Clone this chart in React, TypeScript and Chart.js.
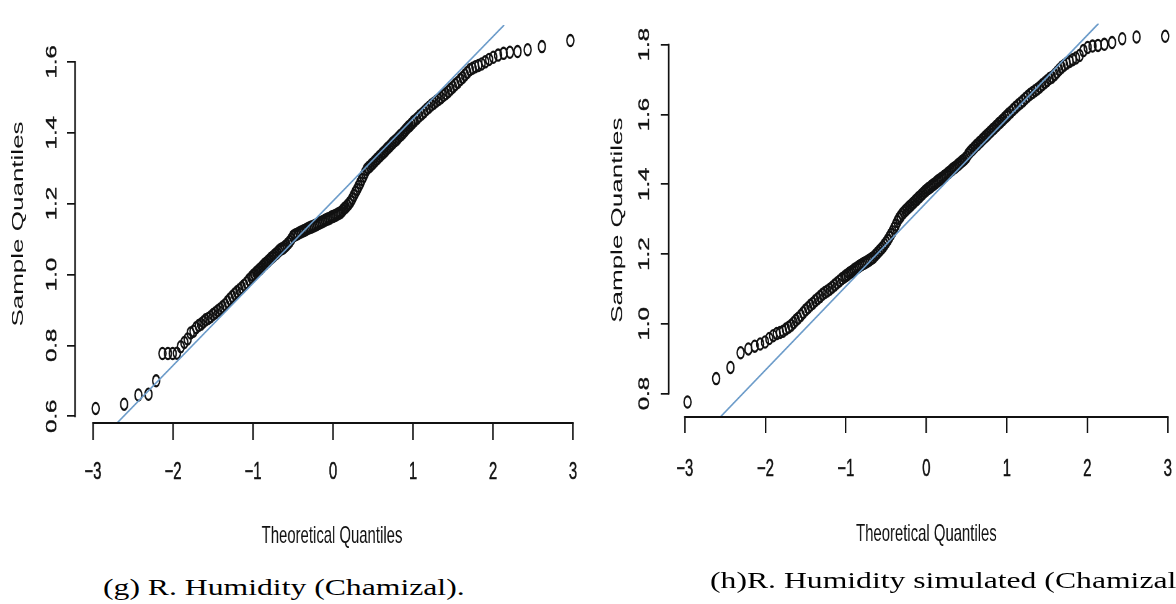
import React, { useEffect, useRef } from "react";
import { Chart, registerables } from "chart.js";

Chart.register(...registerables);

// ---------------- data ----------------
// theoretical normal quantiles (shared by both panels)
const theoreticalQ = [
  -2.967, -2.611, -2.433, -2.307, -2.211, -2.132, -2.064, -2.004, -1.951, -1.903,
  -1.858, -1.818, -1.780, -1.744, -1.711, -1.679, -1.649, -1.621, -1.593,
  -1.56, -1.53, -1.50, -1.47, -1.44, -1.41, -1.38, -1.35, -1.32, -1.29,
  -1.26, -1.23, -1.20, -1.17, -1.14, -1.11, -1.08, -1.05, -1.02,
  -1.00, -0.98, -0.96, -0.94, -0.92, -0.90, -0.88, -0.86, -0.84, -0.82,
  -0.80, -0.78, -0.76, -0.74, -0.72, -0.70, -0.68, -0.66, -0.64, -0.62,
  -0.60, -0.58, -0.56, -0.54, -0.52, -0.50, -0.48, -0.46, -0.44, -0.42,
  -0.40, -0.38, -0.36, -0.34, -0.32, -0.30, -0.28, -0.26, -0.24, -0.22,
  -0.20, -0.18, -0.16, -0.14, -0.12, -0.10, -0.08, -0.06, -0.04, -0.02,
  0.00, 0.02, 0.04, 0.06, 0.08, 0.10, 0.12, 0.14, 0.16, 0.18,
  0.20, 0.22, 0.24, 0.26, 0.28, 0.30, 0.32, 0.34, 0.36, 0.38,
  0.40, 0.42, 0.44, 0.46, 0.48, 0.50, 0.52, 0.54, 0.56, 0.58,
  0.60, 0.62, 0.64, 0.66, 0.68, 0.70, 0.72, 0.74, 0.76, 0.78,
  0.80, 0.82, 0.84, 0.86, 0.88, 0.90, 0.92, 0.94, 0.96, 0.98,
  1.00,
  1.02, 1.05, 1.08, 1.11, 1.14, 1.17, 1.20, 1.23, 1.26, 1.29,
  1.32, 1.35, 1.38, 1.41, 1.44, 1.47, 1.50, 1.53, 1.56,
  1.593, 1.621, 1.649, 1.679, 1.711, 1.744, 1.780, 1.818, 1.858, 1.903,
  1.951, 2.004, 2.064, 2.132, 2.211, 2.307, 2.433, 2.611, 2.967,
];

// (g) R. Humidity (Chamizal) – sample quantiles
const sampleLeft = [
  0.622, 0.634, 0.660, 0.662, 0.700, 0.777, 0.777, 0.777, 0.778, 0.796,
  0.808, 0.818, 0.835, 0.840, 0.850, 0.856, 0.860, 0.866, 0.872,
  0.876, 0.881, 0.887, 0.892, 0.898, 0.903, 0.909, 0.915, 0.923, 0.931,
  0.938, 0.945, 0.951, 0.957, 0.963, 0.970, 0.977, 0.985, 0.992,
  0.997, 1.001, 1.006, 1.010, 1.014, 1.018, 1.023, 1.028, 1.032, 1.036,
  1.040, 1.045, 1.049, 1.053, 1.057, 1.061, 1.066, 1.070, 1.073, 1.075,
  1.079, 1.083, 1.088, 1.093, 1.100, 1.108, 1.111, 1.113, 1.115, 1.118,
  1.120, 1.122, 1.124, 1.126, 1.129, 1.131, 1.133, 1.135, 1.137, 1.139,
  1.141, 1.144, 1.146, 1.148, 1.150, 1.153, 1.155, 1.157, 1.159, 1.162,
  1.164, 1.166, 1.168, 1.171, 1.173, 1.176, 1.181, 1.186, 1.190, 1.195,
  1.200, 1.206, 1.214, 1.223, 1.232, 1.240, 1.249, 1.258, 1.268, 1.277,
  1.287, 1.296, 1.301, 1.305, 1.310, 1.314, 1.319, 1.324, 1.328, 1.333,
  1.337, 1.342, 1.346, 1.351, 1.356, 1.360, 1.365, 1.370, 1.374, 1.378,
  1.382, 1.387, 1.392, 1.396, 1.401, 1.406, 1.411, 1.416, 1.420, 1.425,
  1.430,
  1.434, 1.440, 1.447, 1.453, 1.459, 1.466, 1.472, 1.478, 1.483, 1.489,
  1.494, 1.499, 1.505, 1.510, 1.516, 1.523, 1.529, 1.536, 1.542,
  1.550, 1.556, 1.563, 1.570, 1.578, 1.582, 1.586, 1.590, 1.594, 1.600,
  1.607, 1.613, 1.619, 1.624, 1.627, 1.629, 1.634, 1.643, 1.660,
];

// (h) R. Humidity simulated (Chamizal) – sample quantiles
const sampleRight = [
  0.776, 0.843, 0.875, 0.917, 0.928, 0.936, 0.942, 0.948, 0.958, 0.966,
  0.972, 0.975, 0.979, 0.985, 0.990, 0.996, 1.003, 1.010, 1.016,
  1.024, 1.032, 1.040, 1.046, 1.053, 1.059, 1.066, 1.072, 1.078, 1.085,
  1.090, 1.094, 1.099, 1.105, 1.111, 1.117, 1.123, 1.129, 1.134,
  1.138, 1.141, 1.145, 1.148, 1.151, 1.155, 1.158, 1.161, 1.164, 1.167,
  1.170, 1.173, 1.175, 1.178, 1.181, 1.184, 1.187, 1.190, 1.195, 1.200,
  1.205, 1.210, 1.215, 1.220, 1.227, 1.233, 1.240, 1.248, 1.256, 1.264,
  1.274, 1.283, 1.293, 1.302, 1.308, 1.315, 1.320, 1.325, 1.329, 1.334,
  1.338, 1.343, 1.347, 1.352, 1.356, 1.361, 1.365, 1.370, 1.374, 1.379,
  1.383, 1.387, 1.390, 1.394, 1.398, 1.401, 1.405, 1.409, 1.412, 1.416,
  1.419, 1.423, 1.426, 1.430, 1.434, 1.438, 1.442, 1.446, 1.449, 1.453,
  1.457, 1.461, 1.465, 1.469, 1.473, 1.478, 1.486, 1.492, 1.497, 1.501,
  1.506, 1.511, 1.515, 1.520, 1.524, 1.529, 1.533, 1.538, 1.542, 1.547,
  1.551, 1.556, 1.560, 1.565, 1.569, 1.574, 1.578, 1.583, 1.587, 1.592,
  1.596,
  1.601, 1.607, 1.614, 1.621, 1.627, 1.633, 1.639, 1.646, 1.652, 1.658,
  1.663, 1.668, 1.673, 1.679, 1.685, 1.691, 1.697, 1.703, 1.707,
  1.714, 1.721, 1.728, 1.735, 1.741, 1.747, 1.752, 1.757, 1.762, 1.769,
  1.783, 1.792, 1.796, 1.798, 1.801, 1.806, 1.817, 1.822, 1.824,
];

// reference (qqline) end points, read at the plot-region edges
const qqLineLeftX = [-2.70, 2.14];
const qqLineLeftY = [0.581, 1.704];
const qqLineRightX = [-2.56, 2.14];
const qqLineRightY = [0.733, 1.861];

const xTickValues = [-3, -2, -1, 0, 1, 2, 3];
const xTickLabels = ["\u22123", "\u22122", "\u22121", "0", "1", "2", "3"];
const yTickValuesLeft = [0.6, 0.8, 1.0, 1.2, 1.4, 1.6];
const yTickLabelsLeft = ["0.6", "0.8", "1.0", "1.2", "1.4", "1.6"];
const yTickValuesRight = [0.8, 1.0, 1.2, 1.4, 1.6, 1.8];
const yTickLabelsRight = ["0.8", "1.0", "1.2", "1.4", "1.6", "1.8"];

const xTitle = "Theoretical Quantiles";
const yTitle = "Sample Quantiles";
const captions = ["(g) R. Humidity (Chamizal).", "(h)R. Humidity simulated (Chamizal)."];

// ---------------- layout ----------------
const SX = 0.62; // horizontal squeeze of the plot images
const SANS = "'Liberation Sans', Arial, Helvetica, sans-serif";
const INK = "#111";

type Panel = {
  left: number;
  canvasW: number;
  canvasH: number;
  xMin: number; xMax: number; yMin: number; yMax: number;
  padTop: number; padRight: number;
  yAxisW: number; xAxisH: number;
  yTickLen: number; yTickPad: number; yTitlePad: number;
  xTickLen: number; xTickPad: number; xTitlePad: number;
  sample: number[];
  lineX: number[]; lineY: number[];
  yTicks: number[]; yLabels: string[];
};

const panels: Panel[] = [
  {
    left: 0, canvasW: 965, canvasH: 560,
    xMin: -3.225, xMax: 3.2, yMin: 0.581, yMax: 1.704,
    padTop: 25, padRight: 15,
    yAxisW: 121, xAxisH: 137,
    yTickLen: 13, yTickPad: 7, yTitlePad: 14,
    xTickLen: 17, xTickPad: 18, xTitlePad: 9,
    sample: sampleLeft, lineX: qqLineLeftX, lineY: qqLineLeftY,
    yTicks: yTickValuesLeft, yLabels: yTickLabelsLeft,
  },
  {
    left: 590, canvasW: 975, canvasH: 560,
    xMin: -3.2, xMax: 3.2, yMin: 0.733, yMax: 1.861,
    padTop: 10, padRight: 17,
    yAxisW: 127, xAxisH: 143,
    yTickLen: 13, yTickPad: 9, yTitlePad: 29,
    xTickLen: 16, xTickPad: 22, xTitlePad: 11,
    sample: sampleRight, lineX: qqLineRightX, lineY: qqLineRightY,
    yTicks: yTickValuesRight, yLabels: yTickLabelsRight,
  },
];

const rAxesPlugin = {
  id: "rAxes",
  afterDraw(chart: any, _args: any, opts: any) {
    const { ctx, chartArea, scales } = chart;
    const xs = scales.x, ys = scales.y;
    const xt: number[] = opts.xTicks, yt: number[] = opts.yTicks;
    ctx.save();
    ctx.strokeStyle = INK;
    ctx.lineWidth = 1.8;
    ctx.beginPath();
    ctx.moveTo(xs.getPixelForValue(xt[0]) - 1.3, chartArea.bottom);
    ctx.lineTo(xs.getPixelForValue(xt[xt.length - 1]) + 1.3, chartArea.bottom);
    ctx.stroke();
    ctx.lineWidth = 2.6;
    ctx.beginPath();
    ctx.moveTo(chartArea.left, ys.getPixelForValue(yt[0]) + 0.9);
    ctx.lineTo(chartArea.left, ys.getPixelForValue(yt[yt.length - 1]) - 0.9);
    ctx.stroke();
    ctx.restore();
  },
};

function QQPanel({ p }: { p: Panel }) {
  const ref = useRef<HTMLCanvasElement | null>(null);
  useEffect(() => {
    if (!ref.current) return;
    const n = Math.min(theoreticalQ.length, p.sample.length);
    const pts = [] as { x: number; y: number }[];
    for (let i = 0; i < n; i++) pts.push({ x: theoreticalQ[i], y: p.sample[i] });
    const line = p.lineX.map((x, i) => ({ x, y: p.lineY[i] }));

    const chart = new Chart(ref.current, {
      type: "scatter",
      data: {
        datasets: [
          {
            label: "qqline",
            data: line,
            showLine: true,
            borderColor: "#6b9bc9",
            borderWidth: 2,
            pointRadius: 0,
            pointHoverRadius: 0,
            order: 0,
          } as any,
          {
            label: "sample",
            data: pts,
            pointStyle: "circle",
            pointRadius: 5.6,
            pointHoverRadius: 5.6,
            pointBorderWidth: 2.3,
            pointBackgroundColor: "rgba(0,0,0,0)",
            pointBorderColor: "#111",
            order: 1,
          } as any,
        ],
      },
      options: {
        responsive: false,
        maintainAspectRatio: false,
        animation: false,
        devicePixelRatio: 1,
        events: [],
        layout: { padding: { top: p.padTop, right: p.padRight, bottom: 0, left: 0 } },
        plugins: {
          legend: { display: false },
          tooltip: { enabled: false },
          title: { display: false },
          rAxes: { xTicks: xTickValues, yTicks: p.yTicks },
        } as any,
        scales: {
          x: {
            type: "linear",
            position: "bottom",
            min: p.xMin,
            max: p.xMax,
            afterBuildTicks: (sc: any) => {
              sc.ticks = xTickValues.map((v) => ({ value: v }));
            },
            afterFit: (sc: any) => {
              sc.height = p.xAxisH;
            },
            border: { display: false },
            grid: {
              display: true,
              drawOnChartArea: false,
              drawTicks: true,
              tickLength: p.xTickLen,
              tickWidth: 2.4,
              tickColor: INK,
              color: INK,
              lineWidth: 2.4,
            },
            ticks: {
              autoSkip: false,
              minRotation: 0,
              maxRotation: 0,
              padding: p.xTickPad,
              color: INK,
              textStrokeColor: INK,
              textStrokeWidth: 0.5,
              font: { family: SANS, size: 24 },
              callback: (_v: any, i: number) => xTickLabels[i],
            },
            title: {
              display: true,
              text: xTitle,
              color: INK,
              font: { family: SANS, size: 24 },
              padding: { top: 0, bottom: p.xTitlePad },
            },
          },
          y: {
            type: "linear",
            position: "left",
            min: p.yMin,
            max: p.yMax,
            afterBuildTicks: (sc: any) => {
              sc.ticks = p.yTicks.map((v) => ({ value: v }));
            },
            afterFit: (sc: any) => {
              sc.width = p.yAxisW;
            },
            border: { display: false },
            grid: {
              display: true,
              drawOnChartArea: false,
              drawTicks: true,
              tickLength: p.yTickLen,
              tickWidth: 1.7,
              tickColor: INK,
              color: INK,
              lineWidth: 1.7,
            },
            ticks: {
              autoSkip: false,
              minRotation: 90,
              maxRotation: 90,
              crossAlign: "center",
              padding: p.yTickPad,
              color: INK,
              textStrokeColor: INK,
              textStrokeWidth: 0.5,
              font: { family: SANS, size: 24 },
              callback: (_v: any, i: number) => p.yLabels[i],
            },
            title: {
              display: true,
              text: yTitle,
              color: INK,
              font: { family: SANS, size: 26 },
              padding: { top: p.yTitlePad, bottom: 0 },
            },
          },
        },
      } as any,
      plugins: [rAxesPlugin as any],
    });
    return () => chart.destroy();
  }, [p]);

  return (
    <canvas
      ref={ref}
      width={p.canvasW}
      height={p.canvasH}
      style={{
        position: "absolute",
        left: p.left,
        top: 0,
        width: p.canvasW,
        height: p.canvasH,
        transform: `scaleX(${SX})`,
        transformOrigin: "0 0",
      }}
    />
  );
}

const captionStyle: React.CSSProperties = {
  position: "absolute",
  font: "24px 'Liberation Serif', 'Times New Roman', serif",
  lineHeight: "24px",
  whiteSpace: "nowrap",
  transform: "scaleX(1.32)",
  transformOrigin: "0 0",
  color: "#000",
};

export default function App() {
  return (
    <div
      style={{
        position: "fixed",
        left: 0,
        top: 0,
        width: 1176,
        height: 604,
        overflow: "hidden",
        background: "#fff",
      }}
    >
      {panels.map((p, i) => (
        <QQPanel key={i} p={p} />
      ))}
      <div style={{ ...captionStyle, left: 103, top: 575 }}>{captions[0]}</div>
      <div style={{ ...captionStyle, left: 710, top: 568 }}>{captions[1]}</div>
    </div>
  );
}
